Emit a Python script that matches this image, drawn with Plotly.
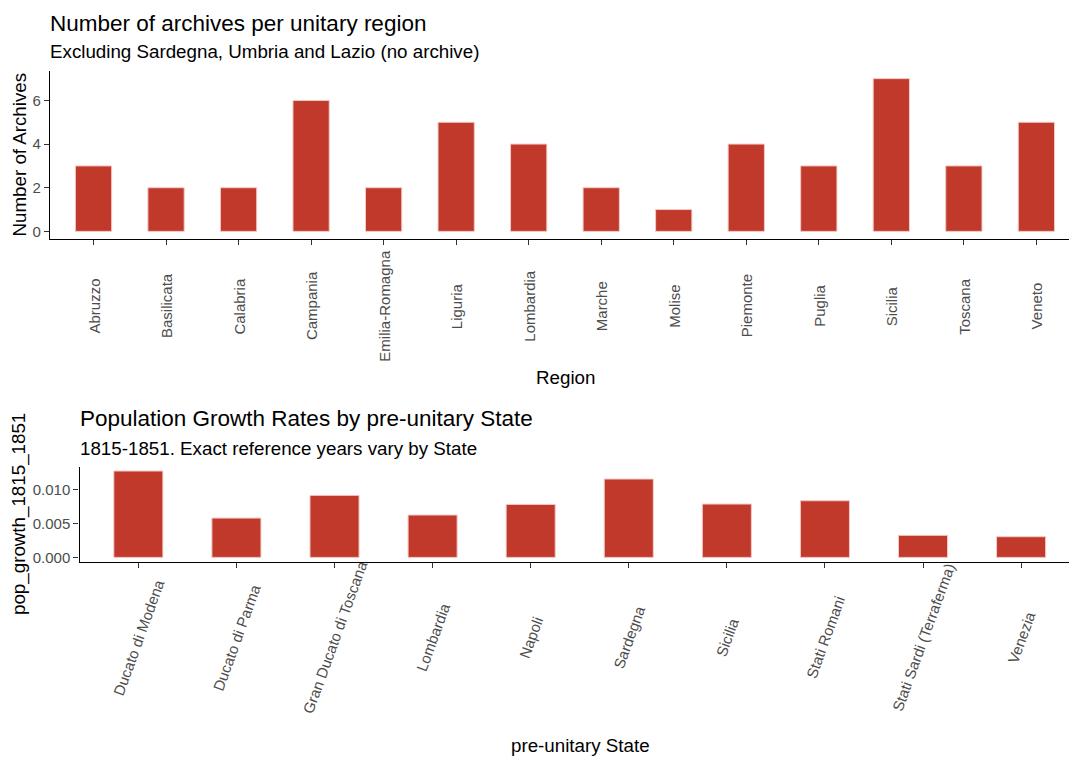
import plotly.graph_objects as go

# ---- data ----
regions = ["Abruzzo", "Basilicata", "Calabria", "Campania", "Emilia-Romagna", "Liguria",
           "Lombardia", "Marche", "Molise", "Piemonte", "Puglia", "Sicilia", "Toscana", "Veneto"]
archives = [3, 2, 2, 6, 2, 5, 4, 2, 1, 4, 3, 7, 3, 5]

states = ["Ducato di Modena", "Ducato di Parma", "Gran Ducato di Toscana", "Lombardia", "Napoli",
          "Sardegna", "Sicilia", "Stati Romani", "Stati Sardi (Terraferma)", "Venezia"]
pop_growth = [0.0127, 0.00578, 0.00912, 0.00623, 0.00779, 0.01152, 0.00784, 0.00833, 0.00324, 0.00304]

top_yticks = [0, 2, 4, 6]
bot_yticks = [0.0, 0.005, 0.010]

# page has an 8px body margin; size the figure so it fills the 1077x757 window
OFF = 8
W, H = 1077 - OFF, 757 - OFF
def px(x): return (x - OFF) / W
def py(y): return 1 - (y - OFF) / H

BAR = "#C0392B"
EDGE = "#F3C9C4"
FONT = "Liberation Sans, Arial, Helvetica, sans-serif"
TICKC = "#4D4D4D"

fig = go.Figure()
fig.add_trace(go.Bar(x=regions, y=archives, width=0.5, marker=dict(color=BAR, line=dict(color=EDGE, width=1)),
                     xaxis="x", yaxis="y", showlegend=False))
fig.add_trace(go.Bar(x=states, y=pop_growth, width=0.5, marker=dict(color=BAR, line=dict(color=EDGE, width=1)),
                     xaxis="x2", yaxis="y2", showlegend=False))

axis_common = dict(showline=True, linecolor="black", linewidth=1.4, ticks="outside", ticklen=5,
                   tickwidth=1, tickcolor="#333333", showgrid=False, zeroline=False, automargin=False,
                   tickfont=dict(family=FONT, size=15, color=TICKC))

fig.update_layout(
    width=W, height=H, paper_bgcolor="white", plot_bgcolor="white",
    margin=dict(l=0, r=0, t=0, b=0, autoexpand=False), bargap=0.5,
    xaxis=dict(domain=[px(50), 1], range=[-0.6, 13.56], type="category", showticklabels=False,
               anchor="y", **axis_common),
    yaxis=dict(domain=[py(239), py(71)], range=[-0.35, 7.35], tickvals=top_yticks,
               anchor="x", **axis_common),
    xaxis2=dict(domain=[px(79.5), 1], range=[-0.6, 9.57], type="category", showticklabels=False,
                anchor="y2", **axis_common),
    yaxis2=dict(domain=[py(561.7), py(466.7)], range=[-0.000635, 0.013335], tickvals=bot_yticks,
                tickformat=".3f", anchor="x2", **axis_common),
)

def txt(text, x, y, size, color="black", angle=0, xanchor="center", xref="paper"):
    return dict(text=text, x=x, y=y, xref=xref, yref="paper", textangle=angle, xanchor=xanchor,
                yanchor="middle", showarrow=False, borderpad=0, borderwidth=0,
                font=dict(family=FONT, size=size, color=color))

ann = []
# titles
ann.append(txt("Number of archives per unitary region", px(50), py(23.5), 22.5, xanchor="left"))
ann.append(txt("Excluding Sardegna, Umbria and Lazio (no archive)", px(50), py(51), 18.75, xanchor="left"))
ann.append(txt("Population Growth Rates by pre-unitary State", px(80), py(418.5), 22.5, xanchor="left"))
ann.append(txt("1815-1851. Exact reference years vary by State", px(80), py(448), 18.75, xanchor="left"))
# axis titles
ann.append(txt("Number of Archives", px(18.5), py(155), 18.75, angle=-90))
ann.append(txt("pop_growth_1815_1851", px(19), py(514), 18.75, angle=-90))
ann.append(txt("Region", px(565), py(377), 18.75))
ann.append(txt("pre-unitary State", px(580), py(745), 18.75))
# x tick labels (centred on ticks, as in the reference)
for r in regions:
    ann.append(txt(r, r, py(306), 15, color=TICKC, angle=-90, xref="x"))
for s in states:
    ann.append(txt(s, s, py(637), 15, color=TICKC, angle=-70, xref="x2"))
fig.update_layout(annotations=ann)

fig.write_html("out.html")
